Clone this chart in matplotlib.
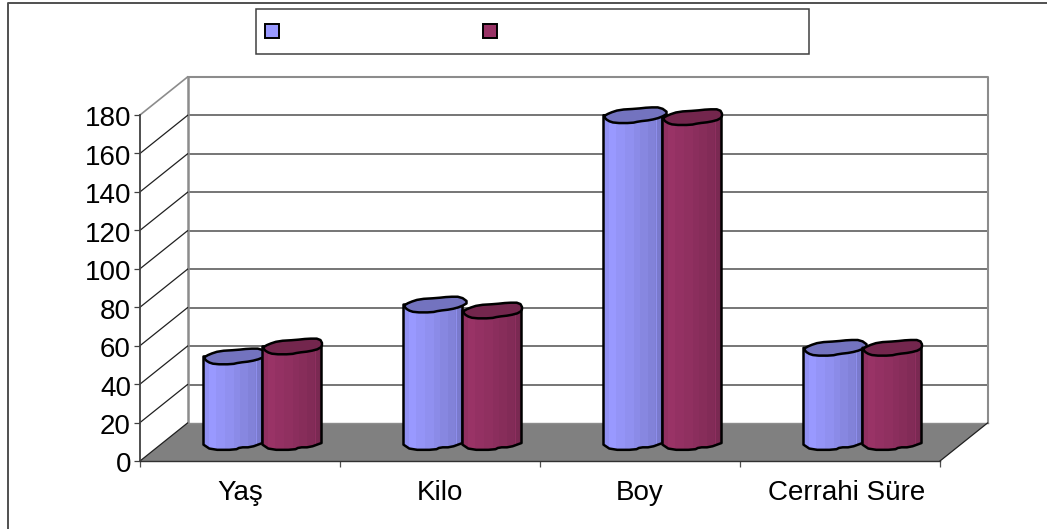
import numpy as np
import matplotlib
matplotlib.use("Agg")
import matplotlib.pyplot as plt
from matplotlib.patches import Polygon, Rectangle
from matplotlib.lines import Line2D
from matplotlib.colors import to_rgb
from matplotlib.transforms import ScaledTranslation

plt.rcParams["font.family"] = ["Liberation Sans"]

categories = ["Yaş", "Kilo", "Boy", "Cerrahi Süre"]
series_a = [44.5, 71.5, 170, 49]
series_b = [49.7, 68.4, 169, 49]
y_ticks = list(range(0, 200, 20))
color_a = "#9999FF"
color_b = "#993366"

W, H = 1047, 529
fig = plt.figure(figsize=(W / 100, H / 100), dpi=100)

# Front plane of the pseudo-3D plot box
left, right, bottom, top = 140, 940, 461, 115
ax = fig.add_axes([left / W, 1 - bottom / H, (right - left) / W, (bottom - top) / H])
ax.set_xlim(0, 4)
ax.set_ylim(0, 180)
ax.patch.set_visible(False)
for s in ("top", "right"):
    ax.spines[s].set_visible(False)
ax.spines["left"].set_color("#404040")
ax.spines["left"].set_linewidth(1.3)
ax.spines["bottom"].set_color("#303030")
ax.spines["bottom"].set_linewidth(1.0)
ax.set_xticks(range(5))
ax.set_xticklabels([])
ax.set_yticks(y_ticks)
ax.tick_params(axis="y", labelsize=20, length=4.5, width=0.9, color="#404040", pad=2)
ax.tick_params(axis="x", length=4.5, width=0.9, color="#505050")
nudge = ScaledTranslation(0, -1.5 / 100, fig.dpi_scale_trans)
for lab in ax.get_yticklabels():
    lab.set_transform(lab.get_transform() + nudge)

# The longest category label sits a little right of its slot
label_shift = [0, 0, 0, 6.5]
for i, name in enumerate(categories):
    ax.annotate(name, (i + 0.5, 0), xytext=(label_shift[i], -39), textcoords="offset pixels",
                ha="center", va="baseline", fontsize=20, annotation_clip=False)

# Depth of the box, expressed in data units
DX = 47.5 / 200
DY = 38 / (346 / 180)
BACK = "#8c8c8c"
GRID = "#505050"

# Floor and walls
ax.add_patch(Polygon([(0, 0), (DX, DY), (4 + DX, DY), (4, 0)], closed=True,
                     fc="#808080", ec="none", clip_on=False, zorder=1))
ax.plot([DX, 4 + DX, 4 + DX], [180 + DY, 180 + DY, DY], color=BACK, lw=1.5,
        clip_on=False, zorder=1.2)
ax.plot([DX, DX], [DY, 180 + DY], color=BACK, lw=1.8, clip_on=False, zorder=1.2)
ax.plot([0, DX], [180, 180 + DY], color=BACK, lw=1.2, clip_on=False, zorder=1.2)
ax.plot([DX, 4 + DX], [DY, DY], color=BACK, lw=1.0, clip_on=False, zorder=1.2)
ax.plot([4, 4 + DX], [0, DY], color="#202020", lw=0.9, clip_on=False, zorder=1.3)
for v in y_ticks[:-1]:
    ax.plot([0, DX], [v, v + DY], color="#202020", lw=0.9, clip_on=False, zorder=1.3)
    if v > 0:
        ax.plot([DX, 4 + DX], [v + DY, v + DY], color=GRID, lw=1.1,
                clip_on=False, zorder=1.1)

# Faceted outlines of cap and base, in units of bar width and cap half-height
CAP_U = np.array([0, .10, .27, .56, .77, .97, 1.0, .97, .80, .60, .48, .19, .07])
CAP_V = np.array([.15, -.28, -.70, -.83, -1, -1, -.28, .28, .62, .79, 1, 1, .70])
BASE_U = np.array([0, .13, .54, .62, .80, 1])
BASE_V = np.array([.34, 1, 1, .68, .68, .13])
BAR_W = 0.295
CAP_H = 4.07
DEPTH_X = 0.1125
STRIP_U = [0, .10, .22, .36, .52, .62, .76, .88, .895, .91, .95, .96, 1.0]
SHADES = [0.95, 1.0, 0.97, 0.94, 0.91, 0.88, 0.85, 0.83, 0.93, 0.80, 0.90, 0.78]


def soften(u, v, closed):
    # One pass of corner cutting so the facets read as rounded
    pts = np.column_stack([u, v])
    nxt = np.roll(pts, -1, axis=0)
    q, r = 0.75 * pts + 0.25 * nxt, 0.25 * pts + 0.75 * nxt
    out = np.empty((2 * len(pts), 2))
    out[0::2], out[1::2] = q, r
    if not closed:
        out = np.vstack([pts[0], out[:-2], pts[-1]])
    return out[:, 0], out[:, 1]


def cylinder(x0, value, color, z, cap_over=0.0):
    rgb = np.array(to_rgb(color))
    cx = x0 + DEPTH_X
    base = DY / 2
    top_y = base + value
    bu, bv = soften(BASE_U, BASE_V, closed=False)
    xs = cx + bu * BAR_W
    ys = base - bv * CAP_H
    body = Polygon(np.vstack([[cx, top_y], np.column_stack([xs, ys]), [cx + BAR_W, top_y]]),
                   closed=True, fc="none", ec="black", lw=1.8, clip_on=False,
                   zorder=z + 0.1, joinstyle="round")
    ax.add_patch(body)
    # shaded body, split in vertical strips clipped to the outline
    for k, shade in enumerate(SHADES):
        u0, u1 = STRIP_U[k], STRIP_U[k + 1]
        strip = Rectangle((cx + u0 * BAR_W, base - CAP_H), (u1 - u0) * BAR_W + 0.001,
                          value + 2 * CAP_H, fc=rgb * shade, ec="none", zorder=z)
        ax.add_patch(strip)
        strip.set_clip_path(body)
    # darker cap on top
    cu = CAP_U.copy()
    cu[6] += cap_over + 0.02
    su, sv = soften(cu, CAP_V, closed=True)
    ax.add_patch(Polygon(np.column_stack([cx + su * BAR_W, top_y - sv * CAP_H]),
                         closed=True, fc=rgb * 0.75, ec="black", lw=1.8, clip_on=False,
                         zorder=z + 0.2, joinstyle="round"))


for i, (a, b) in enumerate(zip(series_a, series_b)):
    cylinder(i + 0.5 - BAR_W, a, color_a, 2 + i, cap_over=0.08)
    cylinder(i + 0.5, b, color_b, 2.5 + i)


# Chart frame and legend box, placed in figure pixels
def fig_rect(x0, y0, x1, y1, **kw):
    fig.add_artist(Rectangle((x0 / W, 1 - y1 / H), (x1 - x0) / W, (y1 - y0) / H,
                             transform=fig.transFigure, **kw))


fig.add_artist(Line2D([7.5 / W, 7.5 / W, 1], [0, 1 - 3 / H, 1 - 3 / H],
                      transform=fig.transFigure, color="#505050", lw=1.4))
fig_rect(255.5, 9, 809, 54, fc="white", ec="#404040", lw=1.1)
fig_rect(265, 24, 279, 38, fc=color_a, ec="black", lw=1.4)
fig_rect(483, 24, 497, 38, fc=color_b, ec="black", lw=1.4)

fig.savefig("out.png", dpi=100)
